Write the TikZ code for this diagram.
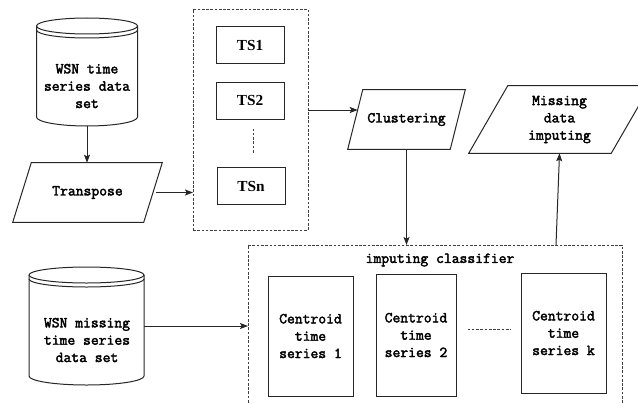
\documentclass[tikz,border=0pt]{standalone}
\usepackage{fontspec}
\setmainfont{Liberation Serif}
\newfontfamily\codefont[FakeBold=2.4]{Latin Modern Mono}
\usetikzlibrary{arrows.meta,calc}

\tikzset{
  outline/.style={draw=black!85, line width=0.75pt},
  flow/.style={draw=black!85, line width=0.75pt,
    -{Stealth[length=6pt,width=4.5pt,inset=1.2pt]}},
  groupbox/.style={draw=black!75, line width=0.6pt, dash pattern=on 2pt off 1.2pt},
  sized/.style 2 args={minimum width=#1*0.75pt, minimum height=#2*0.75pt},
  codetext/.style={font=\codefont\fontsize{11.4}{13}\selectfont,
    align=center, inner sep=0pt},
  tsbox/.style={outline, inner sep=0pt, sized={68}{37},
    font=\bfseries\fontsize{11.5}{13}\selectfont},
  centroid/.style={outline, codetext},
  hidden/.style={inner sep=0pt, outer sep=0pt}
}

% cylinder (data store) around a node: #1 node name, #2 half width
\newcommand\drumshape[2]{%
  \draw[outline] (#1.north west) ++(0,8)
    arc[start angle=180, end angle=-180, x radius=#2, y radius=6pt];
  \draw[outline] (#1.north west) ++(0,12)
    arc[start angle=180, end angle=360, x radius=#2, y radius=6pt];
  \draw[outline] (#1.north west) ++(0,8) -- ([yshift=6.75pt]#1.south west)
    arc[start angle=180, end angle=360, x radius=#2, y radius=6.75pt]
    -- ([yshift=-6pt]#1.north east);
}
% parallelogram around a node: #1 node name, #2 slant
\newcommand\slantframe[2]{%
  \draw[outline] ([xshift=#2]#1.north west) -- (#1.north east)
    -- ([xshift=-#2]#1.south east) -- (#1.south west) -- cycle;
}

\begin{document}
\begin{tikzpicture}[x=0.75pt, y=-0.75pt]
\useasboundingbox (0,0) rectangle (638,403);
\clip (0,0) rectangle (638,403);

% source data store
\node[hidden, sized={101}{108}] (c1) at (87,72) {};
\drumshape{c1}{37.875pt}
\node[codetext] (c1t) at (87,86) {WSN time\\series data\\set};

% transpose step
\node[codetext, sized={149}{59}] (trans) at (87.5,192.5) {Transpose};
\slantframe{trans}{13.9pt}

% group of transposed series
\node[groupbox, hidden, sized={115}{221}] (tsgroup) at (250.5,119.5) {};
\node[tsbox] (ts1) at (250,45.5) {TS1};
\node[tsbox] (ts2) at (250,100.5) {TS2};
\node[tsbox] (tsn) at (251,186) {TSn};
\draw[groupbox] (ts2.south) ++(3,9) -- ([xshift=1.5pt,yshift=9.75pt]tsn.north);

% clustering step
\node[codetext, sized={117}{59}] (clus) at (406.5,119.5) {Clustering};
\slantframe{clus}{11.25pt}

% imputing output
\node[codetext, sized={181}{67}] (miss) at (559.5,119.5) {Missing\\data\\imputing};
\slantframe{miss}{29.25pt}

% data store with gaps
\node[hidden, sized={115}{118}] (c2) at (86.5,326) {};
\drumshape{c2}{43.125pt}
\node[codetext] (c2t) at (87,340) {WSN missing\\time series\\data set};

% imputing classifier group
\node[groupbox, hidden, sized={374}{185}] (imp) at (435,337.5) {};
\node[codetext] (impt) at (440,260) {imputing classifier};
\node[centroid, sized={85}{120}] (cen1) at (310.5,336) {Centroid\\time\\series 1};
\node[centroid, sized={80}{122}] (cen2) at (416,335) {Centroid\\time\\series 2};
\node[centroid, sized={85}{120}] (cenk) at (563.5,333) {Centroid\\time\\series k};
\draw[groupbox] ([xshift=8.25pt,yshift=4.5pt]cen2.east) -- ([xshift=-7.5pt,yshift=3pt]cenk.west);

% connectors
\draw[flow] (c1.south) -- (c1.south |- trans.north);
\draw[flow] ([xshift=-5pt]trans.east) -- (trans.east -| tsgroup.west);
\draw[flow] ($(tsgroup.east)+(0,-9.5)$) -- ($(clus.west)+(10,-9.5)$);
\draw[flow] (clus.south) -- (clus.south |- imp.north);
\draw[flow] ($(imp.north)+(121,0)$) -- (miss.south);
\draw[flow] (c2.east) -- (c2.east -| imp.west);
\end{tikzpicture}
\end{document}
